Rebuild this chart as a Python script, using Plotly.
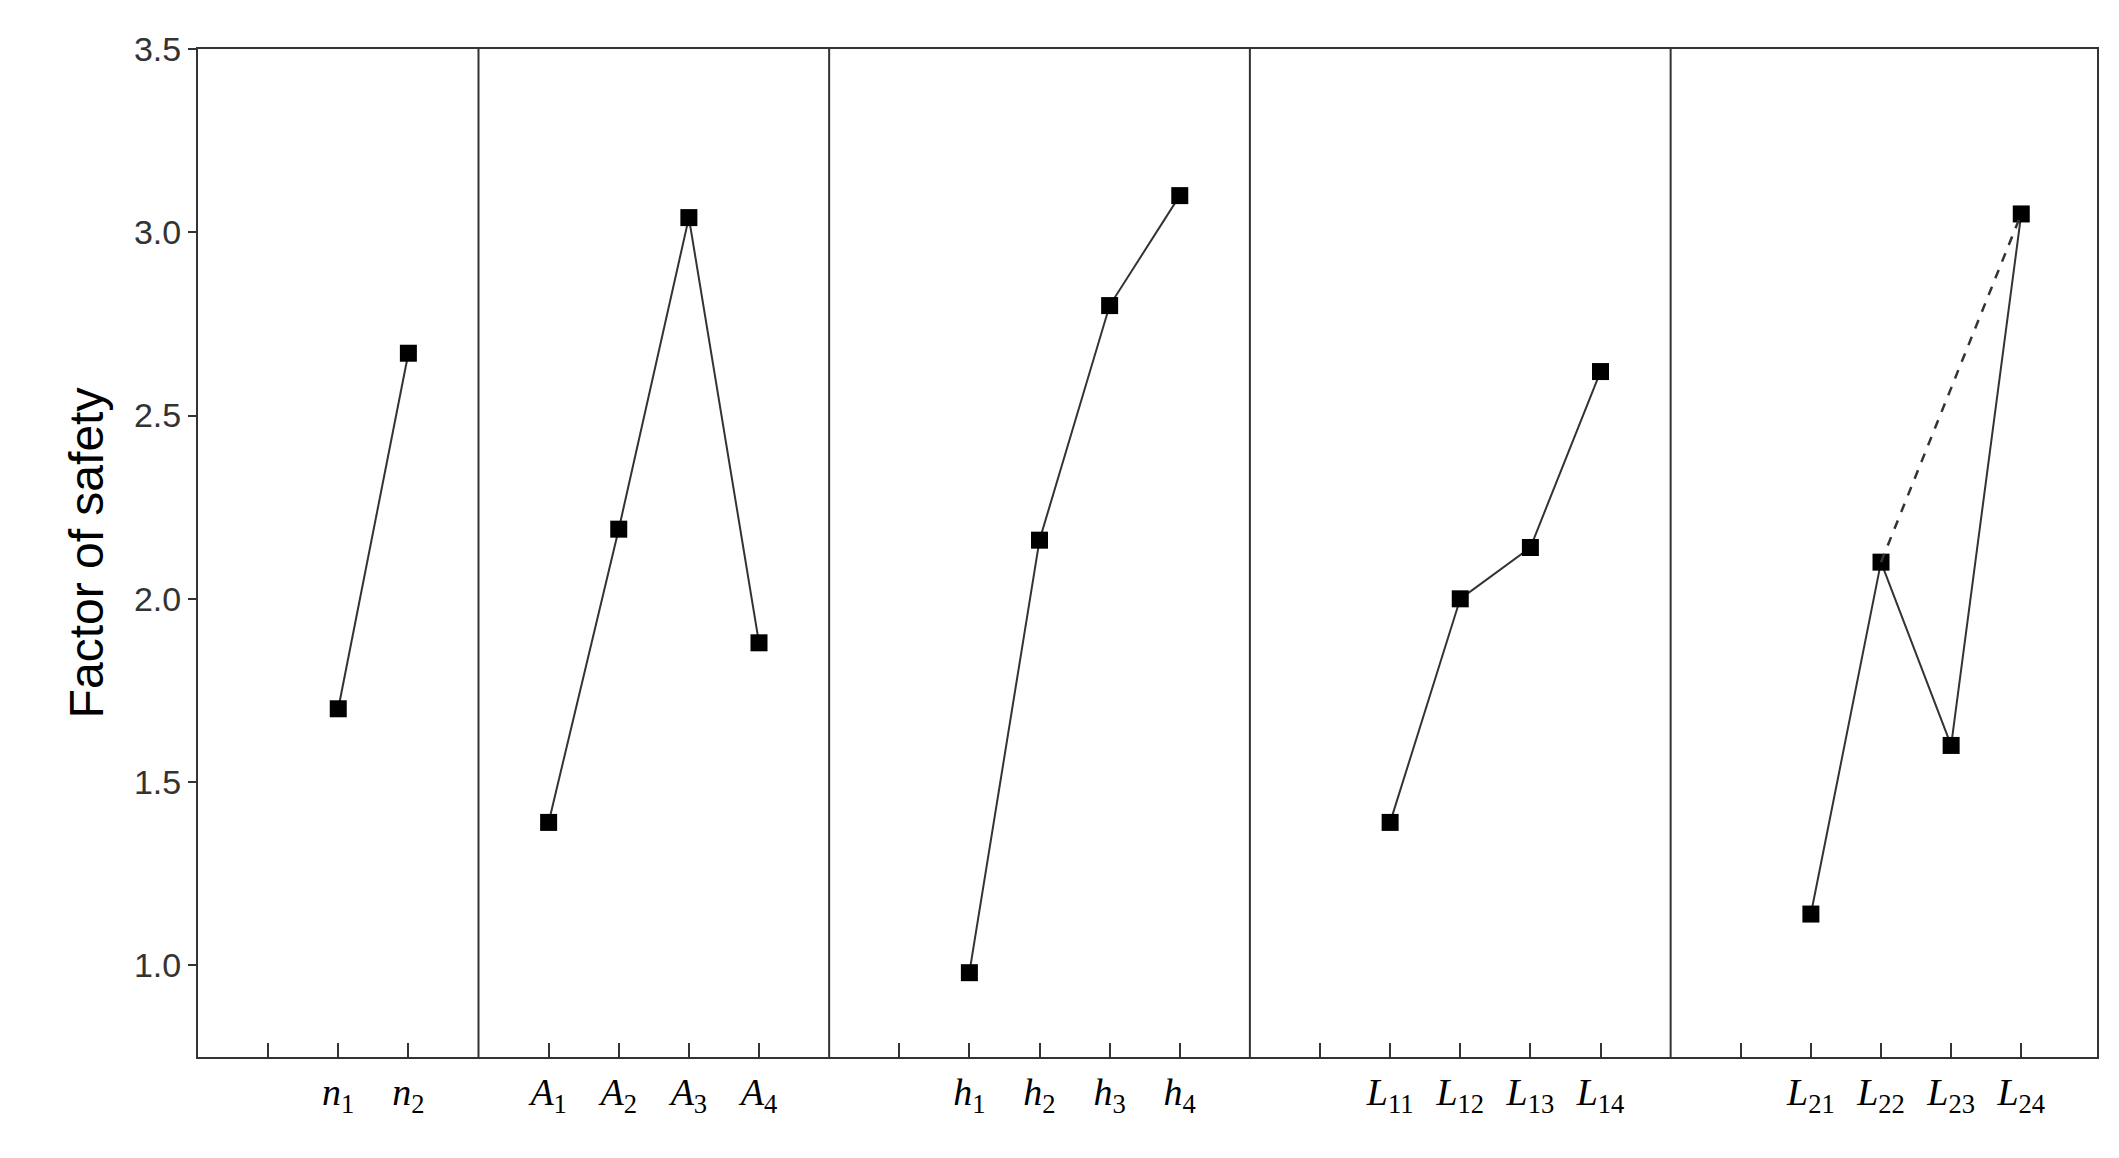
import plotly.graph_objects as go

# factor groups: positions on the shared x axis and their levels
n_x = [2, 3]
n_y = [1.70, 2.67]
A_x = [5, 6, 7, 8]
A_y = [1.39, 2.19, 3.04, 1.88]
h_x = [11, 12, 13, 14]
h_y = [0.98, 2.16, 2.80, 3.10]
L1_x = [17, 18, 19, 20]
L1_y = [1.39, 2.00, 2.14, 2.62]
L2_x = [23, 24, 25, 26]
L2_y = [1.14, 2.10, 1.60, 3.05]

dividers = [4, 9, 15, 21]
all_ticks = [1, 2, 3, 5, 6, 7, 8, 10, 11, 12, 13, 14, 16, 17, 18, 19, 20, 22, 23, 24, 25, 26]
labels = {
    2: "<i>n</i><sub>1</sub>", 3: "<i>n</i><sub>2</sub>",
    5: "<i>A</i><sub>1</sub>", 6: "<i>A</i><sub>2</sub>", 7: "<i>A</i><sub>3</sub>", 8: "<i>A</i><sub>4</sub>",
    11: "<i>h</i><sub>1</sub>", 12: "<i>h</i><sub>2</sub>", 13: "<i>h</i><sub>3</sub>", 14: "<i>h</i><sub>4</sub>",
    17: "<i>L</i><sub>11</sub>", 18: "<i>L</i><sub>12</sub>", 19: "<i>L</i><sub>13</sub>", 20: "<i>L</i><sub>14</sub>",
    23: "<i>L</i><sub>21</sub>", 24: "<i>L</i><sub>22</sub>", 25: "<i>L</i><sub>23</sub>", 26: "<i>L</i><sub>24</sub>",
}
tick_text = [labels.get(t, "") for t in all_ticks]

fig = go.Figure()
for xs, ys in [(n_x, n_y), (A_x, A_y), (h_x, h_y), (L1_x, L1_y), (L2_x, L2_y)]:
    fig.add_trace(go.Scatter(x=xs, y=ys, mode="lines+markers",
                             line=dict(color="#333", width=2),
                             marker=dict(symbol="square", size=17, color="black"),
                             showlegend=False))
# dashed link L22 -> L24
fig.add_trace(go.Scatter(x=[L2_x[1], L2_x[3]], y=[L2_y[1], L2_y[3]], mode="lines",
                         line=dict(color="#333", width=2.5, dash="dash"), showlegend=False))

for d in dividers:
    fig.add_vline(x=d, line=dict(color="#333", width=2))

fig.update_layout(
    width=2119, height=1158, plot_bgcolor="white", paper_bgcolor="white",
    margin=dict(l=190, r=30, t=41, b=109),
    xaxis=dict(range=[0, 27.08], tickvals=all_ticks, ticktext=tick_text,
               ticks="inside", ticklen=14, tickwidth=2, tickcolor="#333",
               showline=True, mirror=True, linecolor="#333", linewidth=2,
               showgrid=False, zeroline=False,
               tickfont=dict(family="Liberation Serif", size=38, color="black")),
    yaxis=dict(range=[0.75, 3.5], tickvals=[1.0, 1.5, 2.0, 2.5, 3.0, 3.5],
               tickformat=".1f", ticks="outside", ticklen=8, tickwidth=2, tickcolor="#333",
               showline=True, mirror=True, linecolor="#333", linewidth=2,
               showgrid=False, zeroline=False,
               title=dict(text="Factor of safety", font=dict(family="Liberation Sans", size=48, color="black")),
               tickfont=dict(family="Liberation Sans", size=34, color="#333")),
)

fig.write_html("out.html")
